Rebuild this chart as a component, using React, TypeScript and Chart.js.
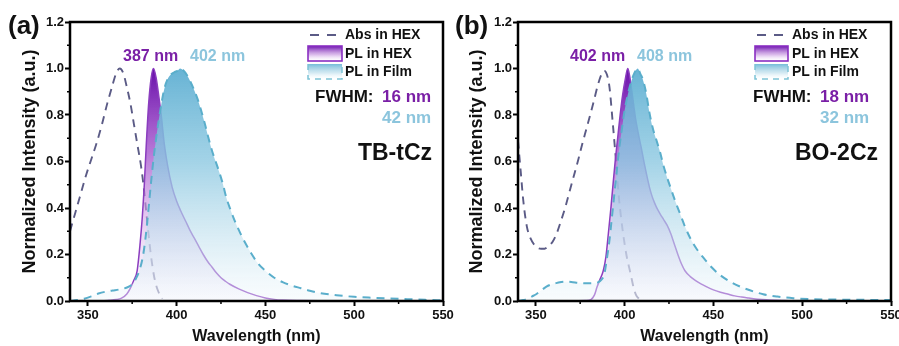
import React, { useEffect, useRef } from 'react';
import { Chart, registerables } from 'chart.js';

Chart.register(...registerables);
Chart.defaults.font.family = "'Liberation Sans', Arial, sans-serif";

type P = [number, number];

// ---------- data (wavelength nm, normalized intensity) ----------
const absA: P[] = [
  [340, 0.3], [343, 0.38], [346, 0.46], [349, 0.54], [352, 0.61], [355, 0.68], [358, 0.76],
  [361, 0.85], [364, 0.93], [366, 0.98], [368, 1.0], [370, 0.98], [372, 0.92], [374, 0.85],
  [376, 0.76], [378, 0.67], [380, 0.58], [381.5, 0.49], [383.5, 0.34], [385.5, 0.2], [387.5, 0.1],
  [389.5, 0.045], [392, 0.01],
];
const hexA: P[] = [
  [340, 0], [355, 0], [362, 0.003], [366, 0.006], [369, 0.012], [372, 0.03], [374, 0.055],
  [376, 0.09], [377.8, 0.13], [379.5, 0.25], [380.7, 0.36], [381.7, 0.48], [383, 0.68], [384.3, 0.85],
  [385.7, 0.96], [387, 1.0], [388.5, 0.96], [390, 0.88], [391.5, 0.79], [393, 0.68], [395, 0.58],
  [397.5, 0.49], [400, 0.43], [402.5, 0.385], [405, 0.345], [407.5, 0.305], [410, 0.27],
  [412.5, 0.235], [415, 0.2], [417.5, 0.17], [420, 0.145], [422.5, 0.12], [425, 0.1],
  [427.5, 0.085], [430, 0.072], [435, 0.052], [440, 0.036], [445, 0.023], [450, 0.013],
  [455, 0.007], [460, 0.004], [470, 0.002], [480, 0.001], [500, 0], [550, 0],
];
const filmA: P[] = [
  [340, 0], [344, 0.004], [348, 0.01], [352, 0.02], [356, 0.032], [360, 0.04], [364, 0.045],
  [368, 0.05], [372, 0.058], [375, 0.072], [377, 0.095], [379, 0.13], [381, 0.19], [382.5, 0.27],
  [384, 0.38], [385.5, 0.5], [387, 0.61], [388.5, 0.7], [390, 0.78], [391.5, 0.85], [393, 0.91],
  [395, 0.955], [397, 0.975], [399, 0.985], [400.5, 0.99], [402, 1.0], [404, 0.99], [406, 0.97],
  [408, 0.94], [410, 0.905], [412, 0.865], [414, 0.815], [416, 0.76], [418, 0.7], [420, 0.645],
  [422, 0.6], [424, 0.555], [426, 0.505], [428, 0.445], [430, 0.4], [433, 0.34], [436, 0.29],
  [439, 0.245], [442, 0.205], [446, 0.16], [450, 0.13], [455, 0.1], [460, 0.08], [465, 0.066],
  [470, 0.055], [475, 0.044], [480, 0.035], [490, 0.025], [500, 0.018], [510, 0.014],
  [520, 0.011], [530, 0.008], [540, 0.005], [550, 0.003],
];

const absB: P[] = [
  [340, 0.69], [341.5, 0.56], [343, 0.43], [345, 0.32], [347, 0.27], [350, 0.235], [353, 0.225],
  [355, 0.225], [357, 0.235], [359.5, 0.255], [362, 0.295], [364, 0.34], [366.5, 0.4], [369, 0.47],
  [371.5, 0.54], [374, 0.61], [376, 0.67], [378.5, 0.74], [381, 0.81], [383, 0.87], [385, 0.93],
  [387, 0.975], [388.6, 0.99], [390, 0.975], [391.5, 0.92], [393.3, 0.77], [395.2, 0.6],
  [397, 0.43], [399, 0.3], [401, 0.2], [403.6, 0.11], [405, 0.06], [406.5, 0.025], [408, 0.01],
];
const hexB: P[] = [
  [340, 0], [370, 0], [378, 0.002], [381, 0.006], [383, 0.025], [384.5, 0.06], [386, 0.09],
  [388, 0.13], [389.5, 0.19], [391, 0.3], [392.3, 0.4], [393.3, 0.485], [394.7, 0.6], [396.1, 0.7],
  [397.5, 0.8], [398.9, 0.886], [400.3, 0.95], [401.8, 1.0], [402.8, 0.97], [403.6, 0.93],
  [405, 0.85], [406.5, 0.77], [408, 0.71], [409.5, 0.655], [411, 0.595], [412.5, 0.54],
  [414, 0.49], [415.5, 0.45], [417, 0.42], [418.5, 0.395], [420, 0.375], [422, 0.35],
  [424, 0.325], [426, 0.29], [428, 0.245], [430, 0.2], [432, 0.16], [434, 0.13], [437, 0.105],
  [440, 0.088], [443, 0.074], [446, 0.062], [450, 0.048], [454, 0.038], [458, 0.03], [462, 0.022],
  [466, 0.017], [470, 0.013], [475, 0.008], [480, 0.005], [490, 0.002], [500, 0], [550, 0],
];
const filmB: P[] = [
  [340, 0], [343, 0.004], [346, 0.012], [348, 0.02], [350, 0.028], [353, 0.045], [356, 0.062],
  [359, 0.072], [362, 0.078], [366, 0.083], [370, 0.082], [374, 0.078], [378, 0.076], [382, 0.076],
  [385, 0.08], [387, 0.092], [388.6, 0.115], [390, 0.18], [391.4, 0.255], [392.8, 0.355],
  [394.2, 0.456], [395.6, 0.56], [397, 0.657], [398.5, 0.74], [399.9, 0.814], [401.3, 0.87],
  [402.7, 0.915], [404, 0.95], [405.5, 0.98], [407.4, 1.0], [409, 0.975], [410.2, 0.955],
  [412, 0.9], [414, 0.81], [416, 0.74], [418, 0.69], [420, 0.64], [422, 0.58], [424, 0.53],
  [426, 0.485], [428.5, 0.43], [431.5, 0.37], [434, 0.32], [437, 0.27], [440.5, 0.225],
  [444.6, 0.184], [449, 0.145], [453.7, 0.112], [459, 0.085], [465, 0.062], [471, 0.045],
  [478, 0.029], [486, 0.019], [495, 0.012], [505, 0.008], [520, 0.006], [535, 0.005], [550, 0.004],
];

const xTicks = [350, 400, 450, 500, 550];
const yTicks = [0, 0.2, 0.4, 0.6, 0.8, 1.0, 1.2];
const xMinorTicks = [375, 425, 475, 525];
const yMinorTicks = [0.1, 0.3, 0.5, 0.7, 0.9, 1.1];

const seriesNames = ['Abs in HEX', 'PL in HEX', 'PL in Film'];

// ---------- styles ----------
const FONT = "'Liberation Sans', Arial, sans-serif";
const ABS_COLOR = '#5b5b86';
const HEX_LINE = '#8b3dbf';
const FILM_LINE = '#5aaecb';
const PURPLE_TEXT = '#7a1fa6';
const BLUE_TEXT = '#8cc5dd';

interface PanelCfg {
  letter: string;
  compound: string;
  peakHex: string;
  peakFilm: string;
  fwhmHex: string;
  fwhmFilm: string;
  abs: P[];
  hex: P[];
  film: P[];
  left: number;
  width: number;
  padRight: number;
  yWidth: number;
  yTitlePad: number;
  pos: {
    letterX: number;
    peakHexX: number;
    peakFilmX: number;
    sampleX1: number;
    sampleX2: number;
    legendTextX: number;
    fwhmX: number;
    valX: number;
    compoundRight: number;
  };
}

const panels: PanelCfg[] = [
  {
    letter: '(a)', compound: 'TB-tCz', peakHex: '387 nm', peakFilm: '402 nm',
    fwhmHex: '16 nm', fwhmFilm: '42 nm', abs: absA, hex: hexA, film: filmA,
    left: 0, width: 470, padRight: 27, yWidth: 70, yTitlePad: 19,
    pos: { letterX: 8, peakHexX: 123, peakFilmX: 190, sampleX1: 308, sampleX2: 342, legendTextX: 345, fwhmX: 315, valX: 382, compoundRight: 432 },
  },
  {
    letter: '(b)', compound: 'BO-2Cz', peakHex: '402 nm', peakFilm: '408 nm',
    fwhmHex: '18 nm', fwhmFilm: '32 nm', abs: absB, hex: hexB, film: filmB,
    left: 449, width: 450, padRight: 8, yWidth: 69, yTitlePad: 17,
    pos: { letterX: 6, peakHexX: 121, peakFilmX: 188, sampleX1: 306, sampleX2: 339, legendTextX: 343, fwhmX: 304, valX: 371, compoundRight: 429 },
  },
];

function vGrad(ctx: CanvasRenderingContext2D, y0: number, y1: number, stops: [number, string][]) {
  const g = ctx.createLinearGradient(0, y0, 0, y1);
  stops.forEach(([o, c]) => g.addColorStop(o, c));
  return g;
}

const HEX_STOPS: [number, string][] = [
  [0, 'rgba(105,15,170,1)'], [0.35, 'rgba(165,85,205,0.82)'], [0.7, 'rgba(220,180,235,0.55)'], [1, 'rgba(250,240,252,0.3)'],
];
const FILM_STOPS: [number, string][] = [
  [0, 'rgba(95,175,210,0.95)'], [0.4, 'rgba(140,200,225,0.8)'], [0.75, 'rgba(200,228,240,0.6)'], [1, 'rgba(240,248,252,0.4)'],
];

const framePlugin = {
  id: 'frame',
  afterDatasetsDraw(chart: any) {
    const { ctx, chartArea: a, scales } = chart;
    ctx.save();
    ctx.strokeStyle = '#000';
    ctx.lineWidth = 2.5;
    ctx.strokeRect(a.left, a.top, a.right - a.left, a.bottom - a.top);
    ctx.lineWidth = 1.5;
    xMinorTicks.forEach((v) => {
      const px = scales.x.getPixelForValue(v);
      ctx.beginPath();
      ctx.moveTo(px, a.bottom);
      ctx.lineTo(px, a.bottom + 3);
      ctx.stroke();
    });
    yMinorTicks.forEach((v) => {
      const py = scales.y.getPixelForValue(v);
      ctx.beginPath();
      ctx.moveTo(a.left, py);
      ctx.lineTo(a.left - 3, py);
      ctx.stroke();
    });
    ctx.restore();
  },
};

function makeTextPlugin(cfg: PanelCfg) {
  return {
    id: 'texts',
    afterDraw(chart: any) {
      const ctx: CanvasRenderingContext2D = chart.ctx;
      const p = cfg.pos;
      ctx.save();
      ctx.textBaseline = 'middle';
      ctx.textAlign = 'left';
      // panel letter
      ctx.fillStyle = '#111';
      ctx.font = `bold 26px ${FONT}`;
      ctx.fillText(cfg.letter, p.letterX, 27);
      // peak labels
      ctx.font = `bold 16px ${FONT}`;
      ctx.fillStyle = PURPLE_TEXT;
      ctx.fillText(cfg.peakHex, p.peakHexX, 57);
      ctx.fillStyle = BLUE_TEXT;
      ctx.fillText(cfg.peakFilm, p.peakFilmX, 57);
      // legend
      const rows = [35, 54, 72];
      ctx.strokeStyle = ABS_COLOR;
      ctx.lineWidth = 1.8;
      ctx.setLineDash([9, 8]);
      ctx.beginPath();
      ctx.moveTo(p.sampleX1 + 2, rows[0]);
      ctx.lineTo(p.sampleX2, rows[0]);
      ctx.stroke();
      ctx.setLineDash([]);
      const bw = p.sampleX2 - p.sampleX1;
      // HEX box
      ctx.fillStyle = vGrad(ctx, rows[1] - 8, rows[1] + 7, [[0, 'rgba(110,20,175,1)'], [0.6, 'rgba(200,150,225,0.6)'], [1, 'rgba(255,255,255,0.2)']]);
      ctx.fillRect(p.sampleX1, rows[1] - 8, bw, 15);
      ctx.strokeStyle = '#8a2fc2';
      ctx.lineWidth = 1.6;
      ctx.strokeRect(p.sampleX1, rows[1] - 8, bw, 15);
      // Film box
      ctx.fillStyle = vGrad(ctx, rows[2] - 8, rows[2] + 7, [[0, 'rgba(110,185,215,0.95)'], [0.6, 'rgba(185,220,235,0.6)'], [1, 'rgba(255,255,255,0.2)']]);
      ctx.fillRect(p.sampleX1, rows[2] - 8, bw, 15);
      ctx.strokeStyle = '#7ec3d6';
      ctx.lineWidth = 1.5;
      ctx.setLineDash([6, 5]);
      ctx.beginPath();
      ctx.moveTo(p.sampleX1, rows[2] - 8);
      ctx.lineTo(p.sampleX1, rows[2] + 7);
      ctx.lineTo(p.sampleX2, rows[2] + 7);
      ctx.lineTo(p.sampleX2, rows[2] - 8);
      ctx.stroke();
      ctx.setLineDash([]);
      ctx.fillStyle = '#111';
      ctx.font = `bold 14px ${FONT}`;
      seriesNames.forEach((n, i) => ctx.fillText(n, p.legendTextX, rows[i]));
      // FWHM
      ctx.font = `bold 17px ${FONT}`;
      ctx.fillStyle = '#111';
      ctx.fillText('FWHM:', p.fwhmX, 97);
      ctx.fillStyle = PURPLE_TEXT;
      ctx.fillText(cfg.fwhmHex, p.valX, 97);
      ctx.fillStyle = BLUE_TEXT;
      ctx.fillText(cfg.fwhmFilm, p.valX, 118);
      // compound
      ctx.fillStyle = '#111';
      ctx.font = `bold 23px ${FONT}`;
      ctx.textAlign = 'right';
      ctx.fillText(cfg.compound, p.compoundRight, 154);
      ctx.restore();
    },
  };
}

function Panel({ cfg }: { cfg: PanelCfg }) {
  const ref = useRef<HTMLCanvasElement>(null);
  useEffect(() => {
    if (!ref.current) return;
    const gradFill = (stops: [number, string][]) => (c: any) => {
      const chart = c.chart;
      const area = chart.chartArea;
      if (!area) return 'rgba(0,0,0,0)';
      const y = chart.scales.y;
      return vGrad(chart.ctx, y.getPixelForValue(1.0), y.getPixelForValue(0), stops);
    };
    const toXY = (arr: P[]) => arr.map(([x, y]) => ({ x, y }));
    const chart = new Chart(ref.current, {
      type: 'line',
      data: {
        datasets: [
          {
            label: seriesNames[2],
            data: toXY(cfg.film),
            borderColor: FILM_LINE,
            borderWidth: 2,
            borderDash: [8, 6],
            backgroundColor: gradFill(FILM_STOPS),
            fill: 'origin',
            pointRadius: 0,
            cubicInterpolationMode: 'monotone',
            order: 1,
          },
          {
            label: seriesNames[1],
            data: toXY(cfg.hex),
            borderColor: HEX_LINE,
            borderWidth: 1.5,
            backgroundColor: gradFill(HEX_STOPS),
            fill: 'origin',
            pointRadius: 0,
            cubicInterpolationMode: 'monotone',
            order: 2,
          },
          {
            label: seriesNames[0],
            data: toXY(cfg.abs),
            borderColor: ABS_COLOR,
            borderWidth: 1.9,
            borderDash: [8, 6],
            fill: false,
            pointRadius: 0,
            cubicInterpolationMode: 'monotone',
            order: 3,
          },
        ],
      },
      options: {
        animation: false,
        responsive: false,
        devicePixelRatio: 1,
        layout: { padding: { left: 0, right: cfg.padRight, top: 22, bottom: 0 } },
        plugins: { legend: { display: false }, tooltip: { enabled: false } },
        scales: {
          x: {
            type: 'linear',
            min: 340,
            max: 550,
            afterBuildTicks: (s: any) => {
              s.ticks = xTicks.map((v) => ({ value: v }));
            },
            afterFit: (s: any) => {
              s.height = 45;
              s.paddingLeft = 0;
              s.paddingRight = 0;
            },
            ticks: { font: { size: 13, weight: 'bold' }, color: '#111', padding: 2, maxRotation: 0, autoSkip: false },
            grid: { display: true, drawOnChartArea: false, drawTicks: true, tickLength: 5, tickWidth: 2, tickColor: '#000' },
            border: { display: false },
            title: {
              display: true,
              text: 'Wavelength (nm)',
              font: { size: 16, weight: 'bold' },
              color: '#111',
              padding: { top: 0, bottom: 0 },
            },
          },
          y: {
            type: 'linear',
            min: 0,
            max: 1.2,
            afterBuildTicks: (s: any) => {
              s.ticks = yTicks.map((v) => ({ value: v }));
            },
            afterFit: (s: any) => {
              s.width = cfg.yWidth;
              s.paddingTop = 0;
              s.paddingBottom = 0;
            },
            ticks: {
              callback: (v: any) => Number(v).toFixed(1),
              font: { size: 13, weight: 'bold' },
              color: '#111',
              padding: 1,
            },
            grid: { display: true, drawOnChartArea: false, drawTicks: true, tickLength: 5, tickWidth: 2, tickColor: '#000' },
            border: { display: false },
            title: {
              display: true,
              text: 'Normalized Intensity (a.u.)',
              font: { size: 18, weight: 'bold' },
              color: '#111',
              padding: { top: cfg.yTitlePad, bottom: 0 },
            },
          },
        },
      } as any,
      plugins: [framePlugin, makeTextPlugin(cfg)],
    });
    return () => chart.destroy();
  }, [cfg]);
  return (
    <canvas
      ref={ref}
      width={cfg.width}
      height={346}
      style={{ position: 'absolute', left: cfg.left, top: 0, width: cfg.width, height: 346 }}
    />
  );
}

export default function App() {
  return (
    <div style={{ position: 'absolute', left: 0, top: 0, width: 899, height: 346, background: '#fff', overflow: 'hidden' }}>
      {panels.map((p) => (
        <Panel key={p.letter} cfg={p} />
      ))}
    </div>
  );
}
